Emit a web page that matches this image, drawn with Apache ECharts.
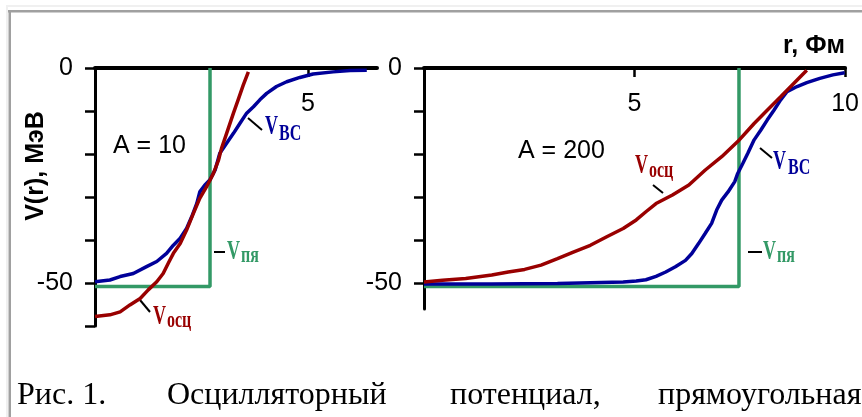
<!DOCTYPE html>
<html><head><meta charset="utf-8">
<script src="https://cdn.jsdelivr.net/npm/echarts@6/dist/echarts.min.js"></script>
<style>html,body{margin:0;padding:0;background:#fff}#c{width:862px;height:417px}</style>
</head><body><div id="c"></div><script>
// ---- data (r in fm, V in MeV) ----
const a10_vbc = [[0,-49.7],[0.35,-49.3],[0.59,-48.5],[0.90,-47.8],[1.21,-46.2],[1.45,-45.0],[1.68,-43.1],[1.84,-41.2],[2.0,-39.6],[2.15,-37.3],[2.27,-34.6],[2.39,-31.5],[2.46,-28.8],[2.58,-27.2],[2.70,-26.0],[2.82,-23.7],[2.93,-19.8],[3.09,-17.5],[3.25,-15.2],[3.40,-12.9],[3.56,-10.5],[3.72,-9.0],[3.87,-7.4],[4.03,-5.9],[4.26,-4.3],[4.50,-3.2],[4.81,-2.2],[5.12,-1.4],[5.59,-0.9],[5.99,-0.6],[6.38,-0.5]];
const a10_vosc = [[0,-57.8],[0.35,-57.4],[0.59,-56.7],[0.82,-55.1],[1.06,-53.6],[1.25,-51.6],[1.45,-49.7],[1.60,-47.8],[1.72,-45.4],[1.84,-43.1],[2.0,-40.8],[2.15,-37.7],[2.31,-33.8],[2.46,-30.3],[2.62,-27.6],[2.78,-24.5],[2.90,-21.4],[2.97,-18.7],[3.09,-15.2],[3.25,-10.5],[3.36,-7.4],[3.48,-4.0],[3.60,-0.9]];
const a10_vsq = [[0,-50.8],[2.70,-50.8],[2.70,0]];

const a200_vbc = [[0,-50.2],[1.61,-50.2],[3.17,-50.1],[3.95,-49.9],[4.73,-49.7],[5.04,-49.5],[5.27,-49.2],[5.51,-48.4],[5.74,-47.4],[5.97,-46.2],[6.21,-44.7],[6.36,-43.1],[6.52,-40.8],[6.68,-38.4],[6.83,-36.1],[6.95,-33.0],[7.07,-30.7],[7.22,-28.8],[7.38,-26.4],[7.45,-24.5],[7.57,-22.2],[7.69,-19.8],[7.84,-16.7],[8.0,-14.4],[8.15,-12.1],[8.31,-9.8],[8.47,-7.4],[8.62,-5.5],[8.86,-4.3],[9.09,-3.4],[9.40,-2.4],[9.71,-1.6],[9.99,-1.1]];
const a200_vosc = [[0,-49.7],[0.44,-49.3],[0.99,-48.9],[1.61,-48.1],[2.0,-47.4],[2.39,-46.8],[2.78,-45.8],[3.17,-44.3],[3.56,-42.7],[3.95,-41.2],[4.34,-39.2],[4.73,-37.3],[5.04,-35.3],[5.27,-33.4],[5.51,-31.5],[5.90,-29.5],[6.29,-27.2],[6.68,-23.7],[7.07,-20.6],[7.45,-17.1],[7.84,-12.9],[8.15,-9.8],[8.47,-6.7],[8.78,-3.6],[9.09,-0.5]];
const a200_vsq = [[0,-50.8],[7.48,-50.8],[7.48,0]];

const yTicksL = [0,-10,-20,-30,-40,-50,-60];
const yTicksR = [0,-10,-20,-30,-40,-50];
const yLabelVals = [0,-50];
const xTicksL = [5];
const xTicksR = [5,10];
const panelTitles = ['A = 10','A = 200'];
const yName = 'V(r), МэВ';
const xName = 'r, Фм';
const captionWords = ['Рис. 1.','Осцилляторный','потенциал,','прямоугольная'];

// ---- styles ----
const BLUE='#000099', RED='#990000', GREEN='#339966';
const SANS='"Liberation Sans", Arial, sans-serif';
const SERIF='"Liberation Serif", "Times New Roman", serif';

function xAxis(gi,max,ticks){return {gridIndex:gi,type:'value',position:'top',min:0,max:max,
  axisLine:{onZero:false,lineStyle:{color:'#000',width:4}},
  axisTick:{inside:true,length:9,lineStyle:{color:'#000',width:2.5},customValues:ticks},
  axisLabel:{inside:true,margin:24,customValues:ticks,fontFamily:SANS,fontSize:25,color:'#000'},
  splitLine:{show:false}};}
function yAxis(gi,min,ticks){return {gridIndex:gi,type:'value',min:min,max:0,
  axisLine:{onZero:false,lineStyle:{color:'#000',width:3}},
  axisTick:{length:10,lineStyle:{color:'#000',width:2.5},customValues:ticks},
  axisLabel:{margin:22,customValues:yLabelVals,fontFamily:SANS,fontSize:25,color:'#000'},
  splitLine:{show:false}};}
function ser(xi,data,color,z){return {type:'line',xAxisIndex:xi,yAxisIndex:xi,data:data,symbol:'none',
  lineStyle:{color:color,width:3.5},itemStyle:{color:color},z:z,silent:true};}

function txt(x,y,text,font,fill,extra){return Object.assign({type:'text',x:x,y:y,
  style:{text:text,font:font,fill:fill,align:'left',verticalAlign:'middle'}},extra||{});}
function vLabel(x,yV,xs,ys,sub,color){return [
  txt(x,yV,'V','bold 18px '+SERIF,color,{scaleY:1.5}),
  txt(xs,ys,sub,'bold 16px '+SERIF,color,{scaleY:1.45})];}
function seg(x1,y1,x2,y2,c,w){return {type:'line',shape:{x1:x1,y1:y1,x2:x2,y2:y2},style:{stroke:c||'#000',lineWidth:w||2}};}

const CAP='32px '+SERIF, CAPY=396;
const graphics = [
  {type:'rect',shape:{x:6,y:5,width:862,height:2},style:{fill:'#f0f0f0'}},
  {type:'rect',shape:{x:6,y:5,width:2,height:420},style:{fill:'#f0f0f0'}},
  {type:'rect',shape:{x:8,y:10,width:862,height:2.5},style:{fill:'#a0a0a0'}},
  {type:'rect',shape:{x:8.5,y:10,width:2.5,height:420},style:{fill:'#a0a0a0'}},
  {type:'text',x:36,y:166,rotation:Math.PI/2,style:{text:yName,font:'bold 25px '+SANS,fill:'#000',align:'center',verticalAlign:'middle'}},
  txt(783,46,xName,'bold 25px '+SANS,'#000'),
  txt(113,146,panelTitles[0],'25px '+SANS,'#000'),
  txt(518,151,panelTitles[1],'25px '+SANS,'#000'),
  // leaders
  seg(248,118,262,130), seg(140,300,150,312), seg(214,252,225,252),
  seg(653,185,663,193), seg(760,148,772,158), seg(748,252,762,252),
  ...vLabel(265,127.5,279,134,'BC',BLUE),
  ...vLabel(153,317.5,167,321,'осц',RED),
  ...vLabel(227,252.5,241,255.5,'пя',GREEN),
  ...vLabel(635,166.5,649,171,'осц',RED),
  ...vLabel(773,162,788,167.5,'BC',BLUE),
  ...vLabel(763,252.5,777,255.5,'пя',GREEN),
  // caption
  txt(17,CAPY,captionWords[0],CAP,'#000'),
  txt(167,CAPY,captionWords[1],CAP,'#000'),
  txt(450,CAPY,captionWords[2],CAP,'#000'),
  txt(658,CAPY,captionWords[3],CAP,'#000')
];

const chart = echarts.init(document.getElementById('c'),null,{renderer:'canvas'});
chart.setOption({
  animation:false,
  backgroundColor:'#fff',
  grid:[{left:95,top:68,width:282,height:258},{left:424,top:68,width:429,height:241}],
  xAxis:[xAxis(0,6.62,xTicksL),xAxis(1,10,xTicksR)],
  yAxis:[yAxis(0,-60,yTicksL),yAxis(1,-56,yTicksR)],
  series:[
    ser(0,a10_vsq,GREEN,2),ser(0,a10_vbc,BLUE,3),ser(0,a10_vosc,RED,4),
    ser(1,a200_vsq,GREEN,2),ser(1,a200_vbc,BLUE,3),ser(1,a200_vosc,RED,4)
  ],
  graphic:graphics
});
</script></body></html>
